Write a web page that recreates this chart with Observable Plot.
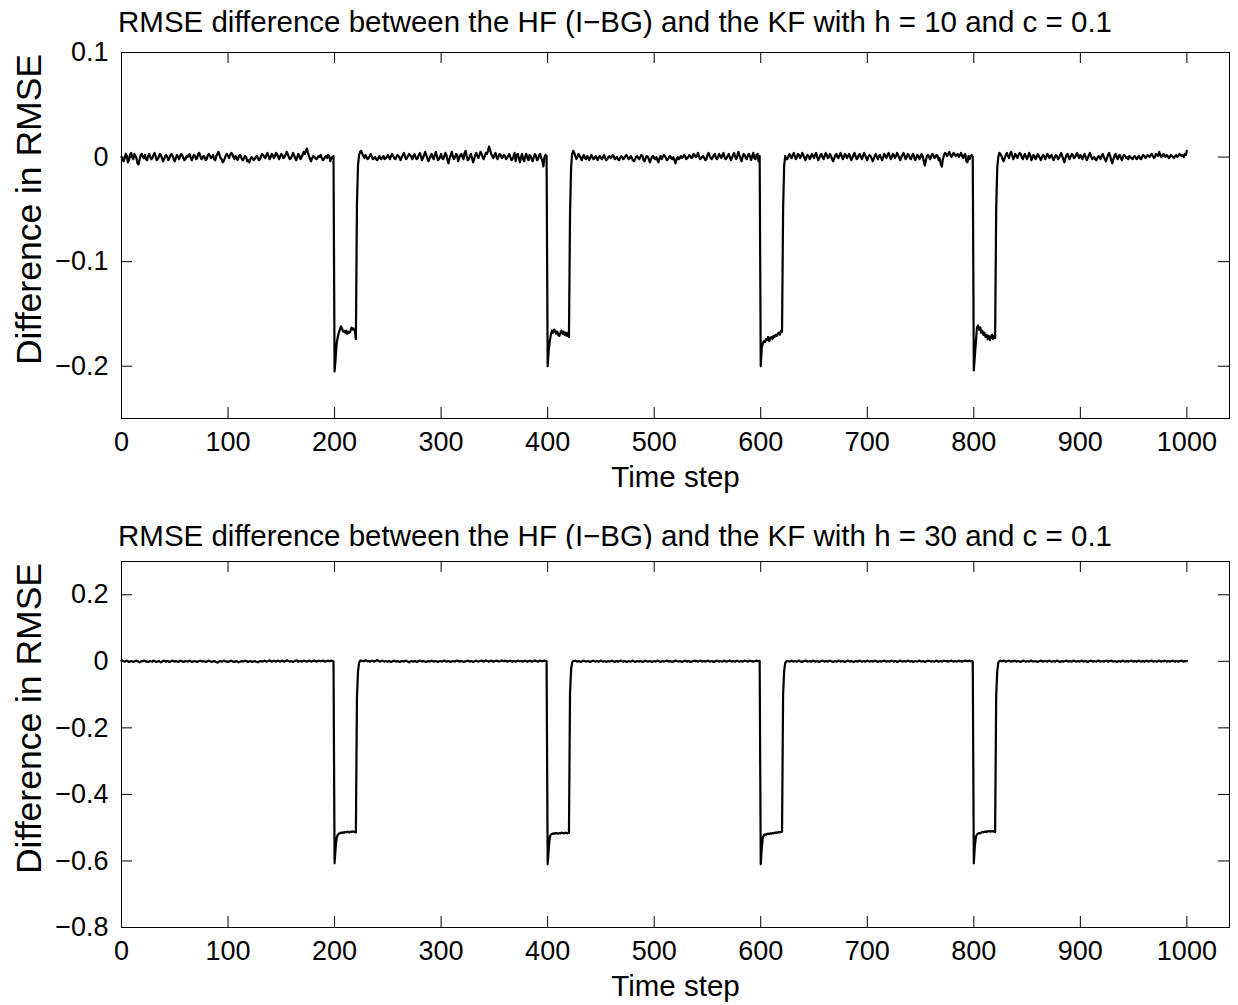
<!DOCTYPE html>
<html><head><meta charset="utf-8">
<script src="https://cdn.jsdelivr.net/npm/d3@7"></script>
<script src="https://cdn.jsdelivr.net/npm/@observablehq/plot@0.6"></script>
<style>
body{margin:0;background:#fff;}
#wrap{position:relative;width:1238px;height:1005px;background:#fff;font-family:"Liberation Sans",Arial,sans-serif;color:#000;}
.title{position:absolute;left:0;width:1230px;text-align:center;font-size:29.5px;line-height:29.5px;white-space:nowrap;}
.panel{position:absolute;left:0;}
</style></head><body><div id="wrap"></div>
<script>
// Titles
const titleTop = "RMSE difference between the HF (I\u2212BG) and the KF with h = 10 and c = 0.1";
const titleBottom = "RMSE difference between the HF (I\u2212BG) and the KF with h = 30 and c = 0.1";
const xLabel = "Time step";
const yLabel = "Difference in RMSE";

// x ticks
const xTicks = [0,100,200,300,400,500,600,700,800,900,1000];
const xTickLabels = ["0","100","200","300","400","500","600","700","800","900","1000"];

// y ticks
const yTicksTop = [-0.2,-0.1,0,0.1];
const yTickLabelsTop = ["\u22120.2","\u22120.1","0","0.1"];
const yTicksBottom = [-0.8,-0.6,-0.4,-0.2,0,0.2];
const yTickLabelsBottom = ["\u22120.8","\u22120.6","\u22120.4","\u22120.2","0","0.2"];

// RMSE difference, h = 10, time steps 0..1000
const rmseDiffH10 = [
0,-.002,-.004,-.001,.003,.001,-.005,-.003,.002,.004,0,-.002,.003,.001,-.001,-.006,-.007,-.002,.002,.003,0,-.001,.002,-.002,-.003,
.001,.003,0,-.002,-.001,.002,.004,.001,-.003,-.002,0,.003,.002,-.001,-.004,-.002,.001,.002,0,-.003,-.001,.002,.003,.001,-.002,
-.004,-.001,.002,0,-.002,.001,.003,.002,-.001,-.003,-.002,.001,0,.002,.003,-.001,-.003,0,.002,.001,-.002,-.001,.003,.004,.001,
-.002,-.001,.001,0,-.003,-.002,.002,.003,.001,-.001,0,.002,-.002,-.003,.001,.003,.005,.002,-.001,-.002,-.005,-.004,-.001,.002,.003,
.001,-.001,.002,.004,.003,0,-.002,.001,-.001,-.003,0,.002,.001,-.002,-.003,-.001,.001,0,-.004,-.003,-.005,-.002,0,-.001,-.003,
-.002,0,.001,-.001,-.003,-.002,.001,.003,.002,0,-.001,.002,.004,.001,-.002,0,.003,.002,-.001,.001,.004,.003,0,-.002,.001,
.003,.002,-.001,0,.002,.005,.003,0,-.002,-.001,.001,.004,.002,-.001,-.003,0,.003,.001,-.002,0,.002,.005,.003,.006,.008,
.004,.001,-.002,-.004,-.001,.001,0,-.001,-.002,-.001,.001,0,.002,-.001,-.003,-.002,0,.001,-.001,.002,.001,-.004,-.001,0,.001,
-.205,-.192,-.178,-.172,-.168,-.165,-.162,-.164,-.167,-.166,-.168,-.166,-.169,-.167,-.168,-.166,-.163,-.165,-.164,-.166,-.174,-.045,-.008,.002,.005,
.006,.003,.001,-.001,.002,0,-.002,-.001,.001,.003,0,-.002,-.001,0,-.002,-.003,-.001,.001,-.001,-.002,0,.001,-.002,-.001,0,
.002,0,-.002,.001,.003,.001,-.001,-.002,0,.002,.001,-.001,-.003,0,.002,.004,.001,-.002,-.001,.001,.003,.002,0,-.002,.001,
.003,0,-.002,-.001,.002,.004,.001,-.003,-.001,.002,.005,.002,-.001,-.004,-.002,.001,.003,0,-.002,.002,.005,.001,-.003,-.002,0,
.003,-.001,-.002,.001,.004,.002,-.003,-.006,-.001,.002,.005,.001,-.002,0,.003,.002,-.004,-.001,.002,.003,0,-.002,.004,.006,.001,
-.003,-.002,.001,.003,-.001,-.005,-.002,.002,.004,.001,-.001,.002,.005,.003,0,-.002,.001,.004,.003,.006,.01,.007,.003,.001,-.001,
.002,.004,0,-.002,.001,.003,.002,-.001,0,.002,.001,-.002,-.001,.001,.003,0,-.003,-.002,.001,.004,-.004,.002,.003,-.001,-.005,
0,.003,-.002,-.004,.001,.003,-.001,-.003,.002,.001,-.002,-.004,0,.003,.001,-.003,-.002,.002,.003,-.001,-.003,-.009,0,.002,.001,
-.2,-.185,-.176,-.17,-.166,-.168,-.165,-.166,-.169,-.167,-.17,-.171,-.168,-.166,-.169,-.167,-.17,-.168,-.171,-.168,-.172,-.055,-.01,.003,.006,
.004,.001,-.002,0,.003,.001,-.001,-.003,0,.002,-.001,-.002,.001,0,-.003,-.001,.002,0,-.002,-.001,.001,-.001,-.003,0,.001,
-.001,-.002,0,.002,-.001,-.003,-.002,0,.001,-.001,0,.002,.001,-.002,-.001,0,-.002,-.003,-.001,.001,0,-.002,-.001,.001,.002,
0,-.002,-.001,.001,-.001,-.003,-.004,-.002,0,.001,-.001,-.002,0,.002,.001,-.003,-.004,-.001,.001,0,-.002,-.005,-.002,0,.001,
-.001,-.002,0,-.003,-.005,-.001,.001,-.002,0,.002,.001,-.001,-.003,-.002,0,.001,-.001,-.002,0,-.003,-.006,-.002,0,-.002,-.001,
.001,-.001,0,.002,.001,-.002,-.001,0,.002,.001,-.001,0,.003,.002,0,.001,.004,.001,-.002,-.001,0,.001,-.001,-.003,-.002,
.002,.004,.001,-.001,-.002,0,.002,.003,-.001,-.002,0,.003,.001,-.001,.002,.004,0,-.002,-.001,.001,.003,0,-.003,-.001,.002,
.004,0,-.002,.001,.005,.002,-.001,-.004,0,.003,.002,-.001,-.002,.002,.003,0,-.003,.001,.004,-.001,-.002,.002,.003,-.004,.001,
-.2,-.182,-.178,-.176,-.177,-.174,-.175,-.172,-.176,-.173,-.172,-.174,-.171,-.172,-.17,-.171,-.169,-.168,-.17,-.166,-.167,-.05,-.008,.001,-.002,
-.002,.001,.003,0,-.001,.002,.004,.001,-.002,0,.003,.002,-.001,.001,.004,.002,-.001,-.003,0,.002,.001,-.002,0,.003,.001,
-.001,.002,.004,0,-.003,-.001,.002,.003,0,-.002,.001,.004,.002,-.001,0,.003,.001,-.002,-.004,-.001,.002,.003,0,-.001,.002,
.004,.001,-.002,0,.003,.002,-.001,.001,.003,0,-.003,-.001,.002,.004,.001,-.002,-.001,.002,.003,0,-.002,.001,.004,.002,-.001,
-.003,0,.002,.001,-.001,-.004,-.002,.001,.003,0,-.002,.001,.002,-.001,-.003,0,.003,.001,-.001,.002,.004,.001,-.002,0,.003,
.002,-.001,.001,.004,.002,-.001,-.003,0,.002,.004,.001,-.002,0,.003,.002,-.001,-.002,.001,.003,0,-.003,-.001,.002,.001,-.002,
0,.003,.001,-.004,-.008,-.003,.001,.002,0,-.002,.001,.003,.002,-.001,0,.002,.001,-.003,-.001,-.007,-.009,-.002,.002,.004,.003,
.001,.003,.005,.002,0,.002,.004,.003,.001,.002,.003,0,.002,.004,.001,-.001,.002,.003,-.004,-.005,.001,-.002,.001,.002,0,
-.204,-.19,-.176,-.163,-.161,-.165,-.163,-.168,-.166,-.17,-.168,-.172,-.17,-.174,-.171,-.175,-.172,-.17,-.174,-.171,-.173,-.05,-.01,0,.004,
.003,.001,-.002,-.004,-.001,.002,.004,.001,-.001,.003,.005,.002,-.002,0,.003,.001,-.001,.002,.004,.003,0,-.002,.001,.003,0,
-.002,.001,.004,.002,-.003,-.001,.002,.001,-.002,0,.003,.001,-.001,-.003,0,.002,.001,-.002,0,.003,.002,-.001,.001,.002,-.001,
-.003,0,.002,.001,-.002,-.001,.002,.004,.001,-.002,-.005,-.001,.002,.003,0,-.002,.001,.003,.002,-.001,0,.002,.004,.001,-.001,
.002,0,-.002,.001,.003,0,-.003,-.001,.002,.004,.001,-.002,-.001,0,-.002,-.003,-.001,.001,0,-.002,.001,.003,0,-.002,-.004,
-.001,.002,.004,.001,-.003,-.006,-.002,.001,.003,0,-.002,.001,.002,-.001,-.003,0,.002,.001,-.001,0,-.002,.001,0,-.001,-.002,
0,.001,-.001,-.002,0,.001,-.001,-.002,0,.002,.001,-.001,0,.002,.001,0,.002,.003,.001,-.001,0,.003,.002,.001,.005,
.002,0,.001,.003,.001,0,.002,.001,-.001,0,.002,.001,0,-.001,.001,.002,0,.001,.003,.002,.001,.002,0,.003,.002,
.006
];

// RMSE difference, h = 30, time steps 0..1000
const rmseDiffH30 = [
.001,.002,0,-.001,.001,.002,0,-.002,-.001,.001,0,-.002,-.001,.001,.002,0,-.001,-.003,-.001,.001,0,.002,.001,-.001,0,
-.002,-.001,.001,0,-.001,.002,.001,-.001,-.002,0,.001,-.001,-.003,-.001,.001,.002,0,-.001,.001,0,-.002,-.001,.001,.002,0,
-.001,.001,0,-.002,-.001,.002,.001,0,-.002,-.001,.001,0,-.001,.001,.002,0,-.002,-.001,0,.001,-.001,-.002,0,.001,.002,
0,-.001,.001,0,-.002,-.001,.001,.002,0,-.001,-.002,0,.001,-.001,-.002,-.004,-.002,0,.001,-.001,0,.002,.001,-.001,0,
-.002,-.001,.001,.002,0,-.001,-.002,0,.001,-.001,-.003,-.002,0,.001,-.001,0,.002,.001,-.001,-.002,0,.001,-.001,-.002,0,
.001,-.001,-.002,-.003,-.001,0,.001,-.001,0,.002,.001,-.001,0,.001,.003,.001,-.001,0,.002,0,-.001,.001,.002,0,-.001,
.001,.002,0,-.001,.001,.003,.002,0,-.001,.001,0,-.002,0,.001,.003,.002,-.001,0,.001,-.001,0,.002,.001,0,-.001,
0,.002,.001,-.001,0,.001,.002,.001,-.001,0,.002,.001,0,.001,.002,.001,-.001,0,.001,.002,0,.001,.002,.001,0,
-.607,-.56,-.53,-.522,-.518,-.517,-.515,-.516,-.514,-.515,-.513,-.514,-.512,-.513,-.514,-.512,-.513,-.511,-.512,-.513,-.514,-.11,-.03,-.004,.002,
.002,.001,0,.001,.003,.002,0,.001,-.001,0,.002,.001,-.001,0,.002,.004,.001,0,-.001,.001,.002,0,-.001,.001,0,
-.001,.001,0,-.002,-.001,.001,.002,0,-.001,.001,0,-.002,-.001,.001,0,-.001,.001,.002,0,-.001,-.003,-.001,.001,0,-.001,
.001,0,-.002,-.001,.001,.002,0,-.001,.001,0,-.001,-.002,0,.001,-.001,0,.002,.001,-.001,0,.001,-.001,-.002,0,.001,
0,-.001,.001,.002,0,-.001,0,.001,-.001,-.002,0,.001,0,-.001,.001,.002,.001,-.001,0,.001,0,-.002,-.001,0,.001,
.002,0,-.001,.001,0,-.002,-.001,.001,.002,0,-.001,0,.001,.002,0,-.001,.001,.003,.001,0,-.001,.001,.002,0,-.001,
0,.001,.002,.001,-.001,0,.001,.003,.001,0,.002,.001,-.001,0,.001,.002,0,-.001,.001,0,-.001,.001,.002,.001,0,
.001,0,-.001,.001,.002,0,-.001,0,.002,.001,-.001,0,.001,.003,.001,0,-.001,.001,.002,.001,0,.001,.002,.001,0,
-.61,-.565,-.528,-.521,-.519,-.518,-.517,-.518,-.516,-.517,-.518,-.516,-.517,-.515,-.516,-.517,-.516,-.515,-.517,-.516,-.515,-.095,-.025,-.003,.001,
.001,.002,0,-.001,.001,0,-.002,-.001,.001,.002,0,-.001,0,.001,-.001,-.002,0,.001,.002,0,-.001,.001,0,-.001,.001,
.002,0,-.001,.001,0,-.002,0,.001,-.001,0,.002,.001,-.001,-.002,0,.001,-.001,0,.001,.002,0,-.001,.001,0,-.002,
-.001,.001,0,-.001,.001,.002,0,-.002,-.001,.001,0,-.001,.001,0,-.002,-.001,.001,.002,0,-.001,0,.001,-.001,-.002,0,
.001,-.001,0,.002,.001,-.001,-.002,0,.001,-.001,0,.001,.002,0,-.001,.001,0,-.002,-.001,.001,.002,.001,0,-.001,.001,
0,-.002,-.001,.001,.002,0,-.001,.001,0,-.002,-.001,0,.001,.002,0,.001,-.001,0,.002,.001,-.001,0,.001,-.001,0,
.002,.001,-.001,0,.001,-.001,-.002,0,.001,.002,0,-.001,.001,0,-.001,.001,.002,0,-.001,0,.001,.002,0,-.001,.001,
0,-.001,.001,.002,0,-.001,0,.001,-.001,0,.002,.001,0,-.001,.001,.002,0,.001,-.001,0,.001,.002,.001,0,.001,
-.61,-.56,-.53,-.522,-.52,-.521,-.519,-.518,-.519,-.517,-.518,-.516,-.517,-.515,-.516,-.514,-.515,-.513,-.514,-.513,-.512,-.1,-.028,-.005,0,
.001,0,-.001,.001,.002,0,-.001,.001,0,-.001,.001,.002,0,-.001,-.002,0,.001,.002,.001,-.001,0,.001,-.001,0,.002,
.001,-.001,0,.001,-.001,-.002,0,.001,.002,0,-.001,.001,0,-.001,.001,.002,0,-.001,-.002,0,.001,-.001,0,.002,.001,
-.001,0,.001,-.001,-.002,0,.001,.002,0,-.001,.001,0,-.002,-.001,.001,0,-.001,.001,.002,0,-.001,0,.001,-.001,0,
.002,.001,-.001,0,.001,-.001,0,.002,.001,-.001,-.002,0,.001,-.001,0,.001,.002,0,-.001,.001,0,-.001,.001,.002,0,
-.001,.001,0,-.002,-.001,.001,.002,0,-.001,0,.001,-.001,0,.002,.001,-.001,0,.001,-.002,-.001,.001,0,-.001,.001,.002,
0,-.001,.001,0,-.002,-.001,.001,.002,.001,0,-.001,.001,0,-.001,.001,.002,0,-.001,0,.001,-.001,0,.002,.001,0,
.001,-.001,0,.001,.002,0,-.001,.001,0,-.001,.001,.002,0,.001,-.001,0,.001,.002,.001,0,.001,.002,0,.001,0,
-.607,-.555,-.527,-.52,-.518,-.516,-.517,-.515,-.513,-.514,-.512,-.513,-.511,-.512,-.51,-.511,-.512,-.51,-.511,-.512,-.513,-.105,-.03,-.004,.001,
.002,0,.001,.002,.001,-.001,0,.001,.002,0,-.001,.001,0,.002,.001,-.001,0,.001,-.001,-.002,0,.001,.002,0,-.001,
.001,0,-.001,.001,.002,0,-.001,0,.001,-.001,-.002,0,.001,.002,.001,-.001,0,.001,0,-.001,.001,.002,0,-.001,0,
.001,-.001,0,.002,.001,-.001,-.002,0,.001,-.001,0,.001,.002,0,-.001,.001,0,-.001,.001,.002,0,-.001,0,.001,-.001,
0,.002,.001,-.001,0,.001,-.001,-.002,0,.001,.002,0,-.001,.001,0,-.001,.001,.002,.001,-.001,0,.001,-.001,0,.002,
.001,-.001,0,.001,.002,0,-.001,.001,0,-.002,-.001,.001,0,-.001,.001,.002,0,-.001,0,.001,-.001,0,.001,.002,0,
-.001,.001,0,-.001,.001,.002,0,-.001,0,.001,-.001,0,.002,.001,-.001,0,.001,.002,0,-.001,.001,0,-.001,.001,.002,
0,-.001,.001,0,.002,.001,-.001,0,.001,-.001,0,.001,.002,0,-.001,.001,0,-.001,0,.001,.002,0,-.001,.001,0,
.001
];

const FONT = "Liberation Sans, Arial, Helvetica, sans-serif";

function panel(values, yDomain, yTicks, yTickLabels, marginBottom) {
  const rows = values.map((v, i) => ({t: i, v}));
  const plotH = 366, plotW = 1229 - 121, tick = 11;
  return Plot.plot({
    width: 1238,
    height: 12 + plotH + marginBottom,
    marginTop: 12,
    marginLeft: 121,
    marginRight: 9,
    marginBottom,
    style: {fontFamily: FONT, fontSize: "27px", color: "#000", background: "#fff", overflow: "visible"},
    x: {domain: [0, 1040]},
    y: {domain: yDomain},
    marks: [
      Plot.line(rows, {x: "t", y: "v", stroke: "#000", strokeWidth: 2.2, strokeLinejoin: "round"}),
      Plot.tickX(xTicks, {x: d => d, insetTop: plotH - tick, stroke: "#000"}),
      Plot.tickX(xTicks, {x: d => d, insetBottom: plotH - tick, stroke: "#000"}),
      Plot.tickY(yTicks, {y: d => d, insetRight: plotW - tick, stroke: "#000"}),
      Plot.tickY(yTicks, {y: d => d, insetLeft: plotW - tick, stroke: "#000"}),
      Plot.frame({stroke: "#000", strokeWidth: 1}),
      Plot.axisX(xTicks, {tickSize: 0, tickPadding: 13, fontSize: 27, label: null,
        tickFormat: d => xTickLabels[xTicks.indexOf(d)]}),
      Plot.axisY(yTicks, {tickSize: 0, tickPadding: 13, fontSize: 27, label: null,
        tickFormat: d => yTickLabels[yTicks.indexOf(d)]}),
      Plot.text([xLabel], {frameAnchor: "bottom", dy: 59, text: d => d, fontSize: 29.5, lineAnchor: "middle", textAnchor: "middle", fill: "#000"}),
      Plot.text([yLabel], {frameAnchor: "left", rotate: -90, dx: -92, dy: -26, text: d => d, fontSize: 35.5, lineAnchor: "middle", textAnchor: "middle", fill: "#000"})
    ]
  });
}

const wrap = document.getElementById("wrap");

function addTitle(text, top) {
  const d = document.createElement("div");
  d.className = "title";
  d.style.top = top + "px";
  d.textContent = text;
  wrap.appendChild(d);
}

addTitle(titleTop, 7);
const p1 = document.createElement("div"); p1.className = "panel"; p1.style.top = "40px";
p1.appendChild(panel(rmseDiffH10, [-0.25, 0.1], yTicksTop, yTickLabelsTop, 80));
wrap.appendChild(p1);

addTitle(titleBottom, 521);
const p2 = document.createElement("div"); p2.className = "panel"; p2.style.top = "549px";
p2.appendChild(panel(rmseDiffH30, [-0.8, 0.3], yTicksBottom, yTickLabelsBottom, 78));
wrap.appendChild(p2);
</script></body></html>
